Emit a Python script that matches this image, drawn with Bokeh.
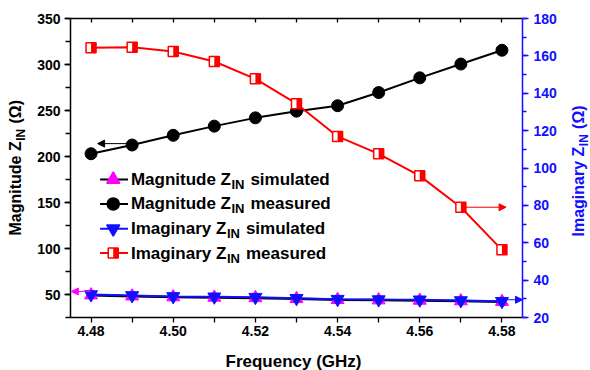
import math
from bokeh.plotting import figure
from bokeh.models import (Range1d, LinearAxis, FixedTicker, SingleIntervalTicker,
                          PrintfTickFormatter, CustomJSTickFormatter, Label, Arrow, NormalHead)
from bokeh.embed import file_html
from bokeh.resources import INLINE

# ---------------- data ----------------
freq = [4.48, 4.49, 4.50, 4.51, 4.52, 4.53, 4.54, 4.55, 4.56, 4.57, 4.58]
mag_sim = [49.3, 48.2, 47.2, 46.8, 46.3, 45.3, 44.3, 43.9, 43.5, 42.9, 42.2]
mag_meas = [203.0, 212.5, 223.0, 233.0, 242.0, 249.3, 255.2, 269.5, 285.5, 300.5, 315.5]
imag_sim = [32.3, 31.8, 31.3, 31.1, 30.9, 30.3, 29.8, 29.6, 29.5, 29.1, 28.7]
imag_meas = [164.3, 164.6, 162.3, 157.0, 147.7, 134.4, 116.9, 107.6, 95.8, 79.0, 56.2]
x_ticks = [4.48, 4.50, 4.52, 4.54, 4.56, 4.58]
x_minor = [4.49, 4.51, 4.53, 4.55, 4.57]

FONT = "Liberation Sans"
BLUE = "#1010ff"
RED = "#ff0000"
MAG = "#ff00ff"
NB = "\u00a0"

X0, X1 = 4.475, 4.585
Y0, Y1 = 25, 350
R0, R1 = 20, 180
FW, FH = 452, 299
px_per_x = FW / (X1 - X0)

p = figure(frame_width=FW, frame_height=FH, x_range=Range1d(X0, X1), y_range=Range1d(Y0, Y1),
           output_backend="svg", toolbar_location=None,
           min_border_left=70, min_border_right=68, min_border_top=18, min_border_bottom=53)
p.outline_line_color = None
p.grid.visible = False
p.extra_y_ranges = {"im": Range1d(R0, R1)}


def style_axis(ax, color="black"):
    ax.axis_line_color = color
    ax.axis_line_width = 1.5
    ax.major_tick_line_color = color
    ax.minor_tick_line_color = color
    ax.major_tick_line_width = 1.3
    ax.minor_tick_line_width = 1.3
    ax.major_label_text_color = color
    ax.major_label_text_font = FONT
    ax.major_label_text_font_style = "bold"
    ax.major_label_text_font_size = "14px"


xa = p.xaxis[0]
style_axis(xa)
xa.ticker = FixedTicker(ticks=x_ticks, minor_ticks=x_minor)
xa.formatter = PrintfTickFormatter(format="%.2f")
xa.major_tick_out = 5
xa.major_tick_in = 0
xa.minor_tick_out = 5
xa.minor_tick_in = 0
xa.major_label_standoff = 3

top = LinearAxis(ticker=FixedTicker(ticks=x_ticks, minor_ticks=x_minor),
                 formatter=CustomJSTickFormatter(code="return ''"))
style_axis(top)
top.major_tick_in = 4
top.major_tick_out = 0
top.minor_tick_in = 4
top.minor_tick_out = 0
top.major_label_standoff = 0
top.major_label_text_font_size = "1px"
p.add_layout(top, "above")

ya = p.yaxis[0]
style_axis(ya)
ya.ticker = SingleIntervalTicker(interval=50, num_minor_ticks=2)
ya.major_tick_out = 6
ya.major_tick_in = 0
ya.minor_tick_out = 5
ya.minor_tick_in = 0
ya.major_label_standoff = 4

ra = LinearAxis(y_range_name="im", ticker=SingleIntervalTicker(interval=20, num_minor_ticks=2))
style_axis(ra, BLUE)
ra.major_tick_out = 6
ra.major_tick_in = 0
ra.minor_tick_out = 4
ra.minor_tick_in = 0
ra.major_label_standoff = 5
p.add_layout(ra, "right")

# ---------------- series ----------------
p.line(freq, mag_meas, line_color="black", line_width=2)
p.scatter(freq, mag_meas, marker="circle", size=12, fill_color="black", line_color="black")

half_dx = 2.5 / px_per_x
p.line(freq, imag_meas, line_color=RED, line_width=2, y_range_name="im")
p.scatter(freq, imag_meas, marker="square", size=10, fill_color="white", line_color=RED,
          line_width=1.5, y_range_name="im")
p.rect([f + half_dx for f in freq], imag_meas, width=5, height=10, width_units="screen",
       height_units="screen", fill_color=RED, line_color=None, y_range_name="im")

p.line(freq, mag_sim, line_color="black", line_width=2.5)
p.scatter(freq, mag_sim, marker="triangle", size=13, fill_color=MAG, line_color=MAG)
p.line(freq, imag_sim, line_color=BLUE, line_width=2, y_range_name="im")
p.scatter(freq, imag_sim, marker="inverted_triangle", size=13, fill_color=BLUE,
          line_color=BLUE, y_range_name="im")

# ---------------- arrows ----------------
def arrow(xs, xe, y, color, rng="default"):
    p.add_layout(Arrow(end=NormalHead(size=7, fill_color=color, line_color=color),
                       x_start=xs, y_start=y, x_end=xe, y_end=y,
                       line_color=color, line_width=1, y_range_name=rng))

arrow(4.4899, 4.4816, 214, "black")
arrow(4.5700, 4.5810, 79, RED, "im")
arrow(4.4800, 4.4752, 53.3, MAG)
arrow(4.5812, 4.5850, 29.5, BLUE, "im")

# ---------------- labels ----------------
def lab(text, x, y, xo=0, yo=0, size="17px", color="black", angle=0.0,
        align="left", baseline="middle", rng="default", place="center"):
    lb = Label(x=x, y=y, x_offset=xo, y_offset=yo, text=text, text_font=FONT,
               text_font_style="bold", text_font_size=size, text_color=color,
               angle=angle, text_align=align, text_baseline=baseline, y_range_name=rng)
    if place == "center":
        p.add_layout(lb)
    else:
        p.add_layout(lb, place)

# legend
leg_rows = [175.0, 148.5, 121.5, 95.0]
lx0, lxm, lx1, ltx = 4.4822, 4.4854, 4.4890, 4.4897
leg = [
    ("Magnitude Z", 100.5, "simulated", "black", "triangle", MAG, MAG),
    ("Magnitude Z", 100.5, "measured", "black", "circle", "black", "black"),
    ("Imaginary Z", 96.0, "simulated", BLUE, "inverted_triangle", BLUE, BLUE),
    ("Imaginary Z", 96.0, "measured", RED, "square", "white", RED),
]
for (main, w, tail, lc, mk, fc, mlc), yy in zip(leg, leg_rows):
    p.segment(lx0, yy, lx1, yy, line_color=lc, line_width=2)
    sz = 12 if mk == "circle" else (10 if mk == "square" else 13)
    p.scatter([lxm], [yy], marker=mk, size=sz, fill_color=fc, line_color=mlc, line_width=1.5)
    if mk == "square":
        p.rect([lxm + half_dx], [yy], width=5, height=10, width_units="screen",
               height_units="screen", fill_color=RED, line_color=None)
    lab(main, ltx, yy)
    lab("IN", ltx, yy, xo=w, yo=-5, size="13px")
    lab(tail, ltx, yy, xo=w + 19)

# axis titles, placed in side panels so they are not clipped to the frame
A = math.pi / 2
gap = NB * 4
ym = (Y0 + Y1) / 2
lab("Magnitude Z" + gap + "(Ω)", X0, ym, xo=-55, yo=-67.5, angle=A, size="16px", place="left")
lab("IN", X0, ym, xo=-50, yo=27.2, angle=A, size="12px", place="left")

rm = (R0 + R1) / 2
lab("Imaginary Z" + gap + "(Ω)", X1, rm, xo=56, yo=-68.5, angle=A, size="16px", color=BLUE,
    rng="im", place="right")
lab("IN", X1, rm, xo=61, yo=21.8, angle=A, size="12px", color=BLUE, rng="im", place="above")

lab("Frequency (GHz)", (X0 + X1) / 2, Y0, xo=-3, yo=-44, size="17px", align="center", place="below")

open("out.html", "w").write(file_html(p, INLINE))
